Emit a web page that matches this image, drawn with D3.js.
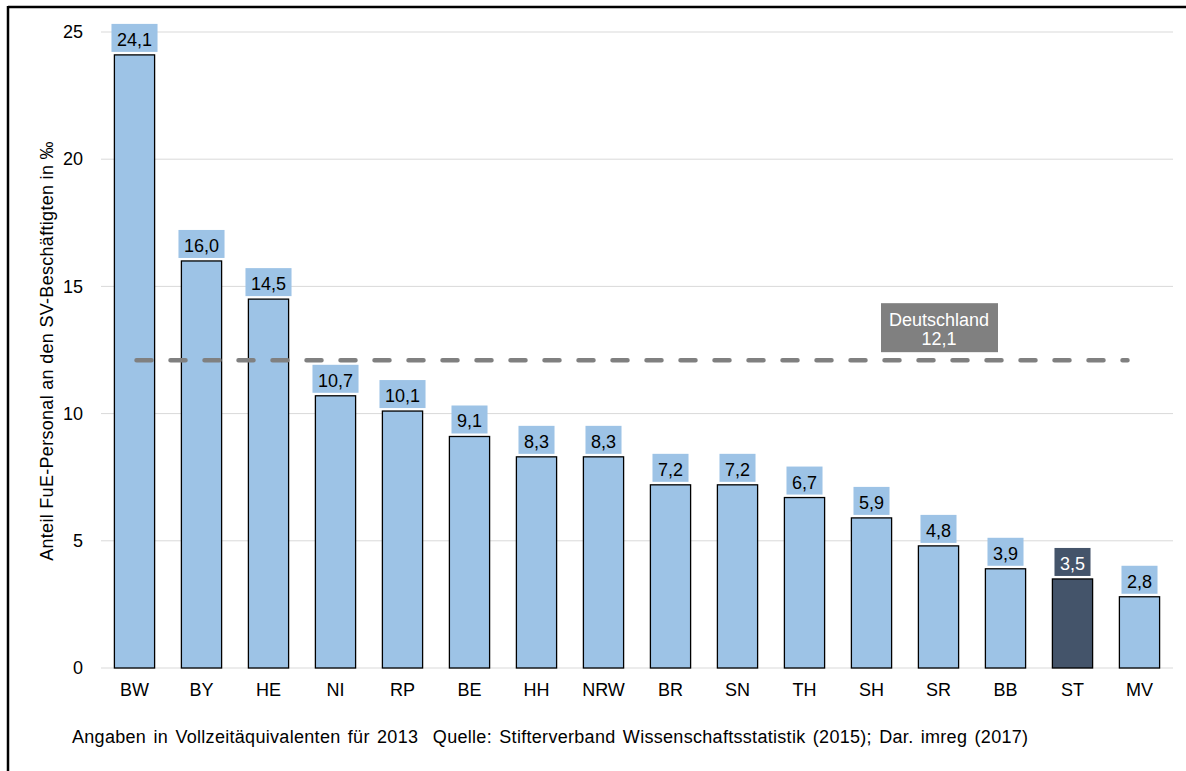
<!DOCTYPE html>
<html>
<head>
<meta charset="utf-8">
<script src="https://cdn.jsdelivr.net/npm/d3@7"></script>
<style>
  body { margin: 0; background: #fff; }
  text { font-family: "Liberation Sans", Arial, sans-serif; }
</style>
</head>
<body>
<svg id="chart"></svg>
<script>
const regions = ['BW', 'BY', 'HE', 'NI', 'RP', 'BE', 'HH', 'NRW', 'BR', 'SN', 'TH', 'SH', 'SR', 'BB', 'ST', 'MV'];
const shares = [24.1, 16.0, 14.5, 10.7, 10.1, 9.1, 8.3, 8.3, 7.2, 7.2, 6.7, 5.9, 4.8, 3.9, 3.5, 2.8];
const yTicks = [0, 5, 10, 15, 20, 25];
const highlight = 'ST';
const germany = 12.1;

const W = 1186, H = 771;
const margin = { top: 32, right: 13, bottom: 103, left: 101 };
const width = W - margin.left - margin.right;
const height = H - margin.top - margin.bottom;
const fs = 18;
const fmt = v => d3.format('.1f')(v).replace('.', ',');

const root = d3.select('#chart').attr('width', W).attr('height', H);

// frame (only top and left are visible in the original)
root.append('line').attr('x1', 8).attr('x2', W).attr('y1', 7).attr('y2', 7)
  .attr('stroke', '#000').attr('stroke-width', 2.5);
root.append('line').attr('x1', 8).attr('x2', 8).attr('y1', 6).attr('y2', H)
  .attr('stroke', '#000').attr('stroke-width', 2.5);

const svg = root.append('g').attr('transform', `translate(${margin.left},${margin.top})`);

const x = d3.scaleBand().domain(regions).range([0, width]).paddingInner(0.4).paddingOuter(0.2);
const y = d3.scaleLinear().domain([0, 25]).range([height, 0]);

// grid
svg.append('g').selectAll('line').data(yTicks).enter().append('line')
  .attr('x1', 0).attr('x2', width)
  .attr('y1', d => y(d)).attr('y2', d => y(d))
  .attr('stroke', '#d9d9d9').attr('stroke-width', 1);

// y axis labels
const yAxis = svg.append('g').call(d3.axisLeft(y).tickValues(yTicks).tickSize(0).tickPadding(18));
yAxis.select('.domain').remove();
yAxis.selectAll('text').attr('font-size', fs).attr('fill', '#000')
  .style('font-family', '"Liberation Sans", Arial, sans-serif');

// x axis labels
const xAxis = svg.append('g').attr('transform', `translate(0,${height})`)
  .call(d3.axisBottom(x).tickSize(0).tickPadding(15));
xAxis.select('.domain').remove();
xAxis.selectAll('text').attr('font-size', fs).attr('fill', '#000')
  .style('font-family', '"Liberation Sans", Arial, sans-serif');

// bars
const data = regions.map((r, i) => ({ name: r, value: shares[i] }));
svg.selectAll('.bar').data(data).enter().append('rect')
  .attr('class', 'bar')
  .attr('x', d => x(d.name))
  .attr('y', d => y(d.value))
  .attr('width', x.bandwidth())
  .attr('height', d => height - y(d.value))
  .attr('fill', d => d.name === highlight ? '#44546a' : '#9dc3e6')
  .attr('stroke', '#000').attr('stroke-width', 1.3);

// value labels with boxes
const lab = svg.selectAll('.lab').data(data).enter().append('g').attr('class', 'lab');
lab.append('text')
  .attr('x', d => x(d.name) + x.bandwidth() / 2)
  .attr('y', d => y(d.value) - 9)
  .attr('text-anchor', 'middle')
  .attr('font-size', fs)
  .attr('fill', d => d.name === highlight ? '#fff' : '#000')
  .text(d => fmt(d.value));
lab.each(function (d) {
  const g = d3.select(this);
  const bb = g.select('text').node().getBBox();
  g.insert('rect', 'text')
    .attr('x', bb.x - 5.5).attr('width', bb.width + 11)
    .attr('y', y(d.value) - 31).attr('height', 28)
    .attr('fill', d.name === highlight ? '#44546a' : '#9dc3e6');
});

// Germany average line
const x0 = x(regions[0]) + x.bandwidth() / 2;
const x1 = x(regions[regions.length - 1]) + x.bandwidth() / 2 - 12;
svg.append('line')
  .attr('x1', x0 + 2).attr('x2', x1)
  .attr('y1', y(germany)).attr('y2', y(germany))
  .attr('stroke', '#808080').attr('stroke-width', 4.5)
  .attr('stroke-linecap', 'round')
  .attr('stroke-dasharray', '15 19');

const gx = 939 - margin.left, gy = y(germany);
const gl = svg.append('g');
gl.append('rect').attr('x', gx - 58).attr('y', gy - 57).attr('width', 117).attr('height', 49)
  .attr('fill', '#808080');
gl.append('text').attr('x', gx).attr('y', gy - 34).attr('text-anchor', 'middle')
  .attr('font-size', fs).attr('fill', '#fff').text('Deutschland');
gl.append('text').attr('x', gx).attr('y', gy - 15).attr('text-anchor', 'middle')
  .attr('font-size', fs).attr('fill', '#fff').text(fmt(germany));

// y title
root.append('text')
  .attr('transform', `translate(53,351) rotate(-90)`)
  .attr('text-anchor', 'middle').attr('font-size', fs).attr('fill', '#000')
  .style('letter-spacing', '0.3px')
  .text('Anteil FuE-Personal an den SV-Beschäftigten in ‰');

// source note
root.append('text').attr('x', 72).attr('y', 743)
  .attr('font-size', fs).attr('fill', '#000')
  .attr('xml:space', 'preserve')
  .style('word-spacing', '2px')
  .style('letter-spacing', '0.3px')
  .text('Angaben in Vollzeitäquivalenten für 2013  Quelle: Stifterverband Wissenschaftsstatistik (2015); Dar. imreg (2017)');
</script>
</body>
</html>
